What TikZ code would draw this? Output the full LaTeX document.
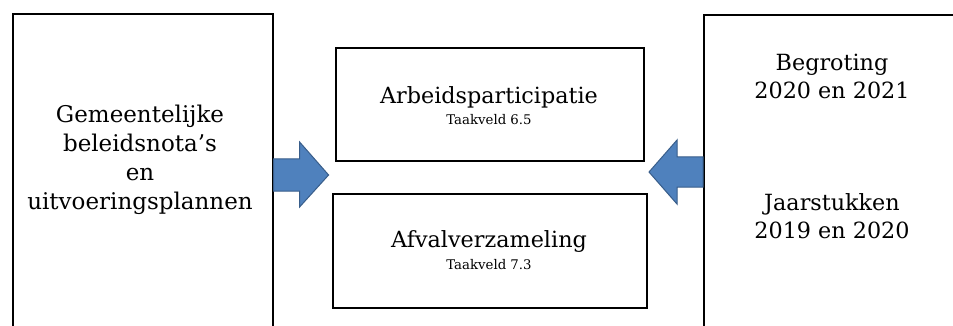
\documentclass[tikz,border=0pt]{standalone}
\usepackage{fontspec}
\setmainfont{DejaVu Serif}
\definecolor{arrfill}{HTML}{4F81BD}
\definecolor{arrline}{HTML}{385D8A}
\tikzset{
  box/.style={draw=black, line width=1.6pt, rectangle, inner sep=0pt},
  bigtxt/.style={align=center, font=\fontsize{23}{29}\selectfont, inner sep=0pt},
  midtxt/.style={align=center, font=\fontsize{22.3}{27.5}\selectfont, inner sep=0pt},
  smalltxt/.style={font=\fontsize{13.3}{15}\selectfont, inner sep=0pt},
  blockarrow/.style={fill=arrfill, draw=arrline, line width=1pt, line join=miter}
}
\begin{document}
\begin{tikzpicture}[x=1pt,y=-1pt]
\useasboundingbox (0,0) rectangle (953,326);
\fill[white] (0,0) rectangle (953,326);
\begin{scope}
\clip (0,0) rectangle (953,326);
% outer boxes (run off the bottom / right edge)
\node[box, minimum width=260pt, minimum height=340pt, anchor=north west] (left) at (12,13) {};
\node[box, minimum width=280pt, minimum height=340pt, anchor=north west] (right) at (703,14) {};
\end{scope}
% middle boxes
\node[box, minimum width=308pt, minimum height=113pt, anchor=north west] (top) at (335,47) {};
\node[box, minimum width=314pt, minimum height=114pt, anchor=north west] (bot) at (332,193) {};
% texts
\node[bigtxt] (lefttxt) at (140,160) {Gemeentelijke\\beleidsnota’s\\en\\uitvoeringsplannen};
\node[midtxt] (toptitle) at (489,97) {Arbeidsparticipatie};
\node[smalltxt] (topsub) at (489,120) {Taakveld 6.5};
\node[midtxt] (bottitle) at (489,242) {Afvalverzameling};
\node[smalltxt] (botsub) at (489,265) {Taakveld 7.3};
\node[midtxt] (begr) at (832,76.5) {Begroting\\2020 en 2021};
\node[midtxt] (jaar) at (832,216) {Jaarstukken\\2019 en 2020};
% block arrows
\coordinate (la) at (left.east |- 0,175);
\coordinate (ra) at (right.west |- 0,172);
\draw[blockarrow] ([yshift=16pt]la) -- ++(26,0) -- ++(0,-17) -- ++(29,33) -- ++(-29,32) -- ++(0,-16) -- ++(-26,0) -- cycle;
\draw[blockarrow] ([yshift=15pt]ra) -- ++(-26,0) -- ++(0,-17) -- ++(-28,32) -- ++(28,32) -- ++(0,-17) -- ++(26,0) -- cycle;
\end{tikzpicture}
\end{document}
